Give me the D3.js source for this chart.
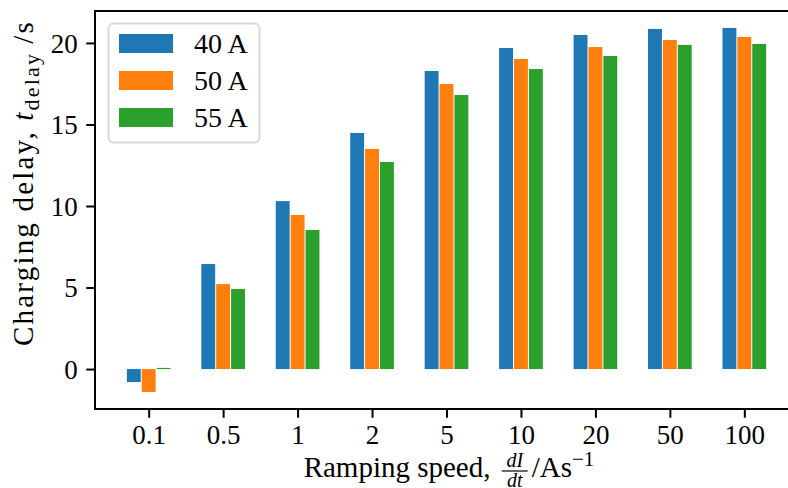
<!DOCTYPE html>
<html><head><meta charset="utf-8">
<script src="https://cdn.jsdelivr.net/npm/d3@7"></script>
<style>body{margin:0;background:#fff} svg text{font-family:"Liberation Serif","Times New Roman",serif;fill:#000}</style>
</head><body><svg id="c" width="788" height="488"></svg>
<script>
const categories = ["0.1","0.5","1","2","5","10","20","50","100"];
const seriesNames = ["40 A","50 A","55 A"];
const s40 = [-0.8, 6.44, 10.3, 14.48, 18.28, 19.69, 20.49, 20.86, 20.92];
const s50 = [-1.41, 5.21, 9.45, 13.5, 17.48, 19.02, 19.75, 20.18, 20.37];
const s55 = [0.07, 4.91, 8.53, 12.7, 16.81, 18.4, 19.2, 19.88, 19.94];
const yTicks = [0, 5, 10, 15, 20];
const colors = ["#1f77b4", "#ff7f0e", "#2ca02c"];
const series = [s40, s50, s55];

const svg = d3.select("#c");
const L = 95, R = 798, T = 11, B = 409;
const FS = 27, LFS = 29;
const x = d3.scaleLinear().domain([-0.721, 8.721]).range([L, R]);
const y = d3.scaleLinear().domain([-2.45, 21.96]).range([B, T]);
const bw = 0.2;

// bars
series.forEach((vals, si) => {
  const off = (si - 1) * bw;
  svg.append("g").selectAll("rect").data(vals).join("rect")
    .attr("x", (d, i) => x(i + off - bw / 2) + 0.5)
    .attr("width", x(bw) - x(0) - 1)
    .attr("y", d => y(Math.max(0, d)))
    .attr("height", d => Math.abs(y(d) - y(0)))
    .attr("fill", colors[si]);
});

// axes
const xAxis = d3.axisBottom(x).tickValues(d3.range(categories.length))
  .tickFormat(i => categories[i]).tickSize(8.75).tickPadding(8);
const gx = svg.append("g").attr("transform", `translate(0,${B})`).call(xAxis);
const yAxis = d3.axisLeft(y).tickValues(yTicks).tickSize(8.75).tickPadding(8.5);
const gy = svg.append("g").attr("transform", `translate(${L},0)`).call(yAxis);
[gx, gy].forEach(g => {
  g.select(".domain").remove();
  g.selectAll(".tick line").attr("stroke", "#000").attr("stroke-width", 2);
  g.selectAll(".tick text").style("font-size", FS + "px").attr("fill", "#000");
});
gy.selectAll(".tick text").attr("dy", "0.34em");
gx.selectAll(".tick text").attr("dy", "0.68em");

// frame
svg.append("rect").attr("x", L).attr("y", T).attr("width", R - L).attr("height", B - T)
  .attr("fill", "none").attr("stroke", "#000").attr("stroke-width", 2);

// legend
const lg = svg.append("g");
lg.append("rect").attr("x", 108.5).attr("y", 23.5).attr("width", 151).attr("height", 119)
  .attr("rx", 5).attr("fill", "#fff").attr("fill-opacity", 0.8)
  .attr("stroke", "#d9d9d9").attr("stroke-width", 2);
seriesNames.forEach((n, i) => {
  const yy = 34 + i * 37;
  lg.append("rect").attr("x", 119).attr("y", yy).attr("width", 54).attr("height", 19).attr("fill", colors[i]);
  lg.append("text").attr("x", 194).attr("y", yy + 19).style("font-size", "28px").text(n);
});

// y label
const yl = svg.append("text").attr("transform", "translate(33,183) rotate(-90)")
  .attr("text-anchor", "middle").style("font-size", LFS + "px").style("letter-spacing", "2.2px");
yl.append("tspan").text("Charging delay, ");
yl.append("tspan").style("font-style", "italic").text("t");
yl.append("tspan").attr("dy", 6).style("font-size", "22px").text("delay");
yl.append("tspan").attr("dy", -6).text("\u2009/s");

// x label
const xl = svg.append("g");
const base = 477;
const t1 = xl.append("text").attr("x", 0).attr("y", base).style("font-size", LFS + "px").text("Ramping speed,\u00a0");
const w1 = t1.node().getComputedTextLength();
const fx = w1 + 4;
xl.append("text").attr("x", fx + 13).attr("y", base - 10).attr("text-anchor", "middle")
  .style("font-size", "20px").style("font-style", "italic").text("dI");
xl.append("text").attr("x", fx + 13).attr("y", base + 10).attr("text-anchor", "middle")
  .style("font-size", "20px").style("font-style", "italic").text("dt");
xl.append("line").attr("x1", fx).attr("x2", fx + 26).attr("y1", base - 6).attr("y2", base - 6)
  .attr("stroke", "#000").attr("stroke-width", 1.2);
const t2 = xl.append("text").attr("x", fx + 30).attr("y", base).style("font-size", LFS + "px");
t2.append("tspan").text("/As");
t2.append("tspan").attr("dy", -11).style("font-size", "21px").text("\u22121");
const totalW = fx + 30 + t2.node().getComputedTextLength();
xl.attr("transform", `translate(${449 - totalW / 2},0)`);
</script></body></html>
